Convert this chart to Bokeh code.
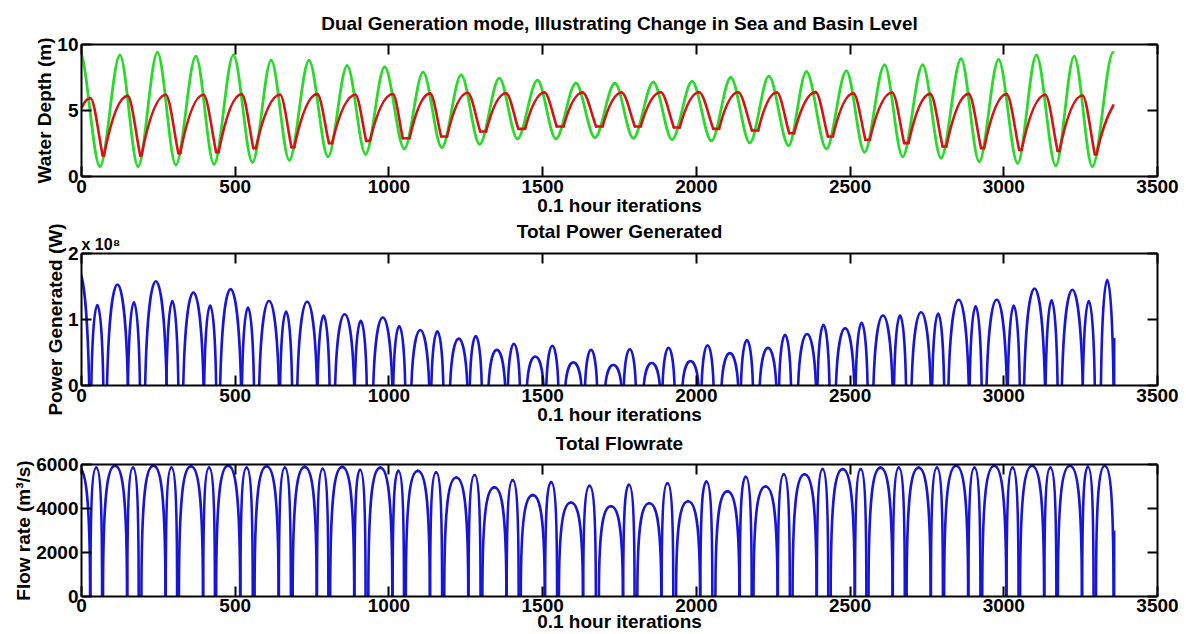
import numpy as np
from bokeh.plotting import figure
from bokeh.layouts import column
from bokeh.models import LinearAxis, FixedTicker, Range1d, Title
from bokeh.embed import file_html
from bokeh.resources import INLINE

# ------------------------------------------------------------------
# Data (x in 0.1 hour iterations)
# ------------------------------------------------------------------
x_ticks = [0, 500, 1000, 1500, 2000, 2500, 3000, 3500]
depth_ticks = [0, 5, 10]
power_ticks = [0, 1, 2]          # x 10^8 W
flow_ticks = [0, 2000, 4000, 6000]

# Sea level (green): successive turning points
sea_x = [-6, 60, 125, 184, 247, 307, 372, 431, 494, 556, 617, 676, 740, 802, 864, 924,
         986, 1050, 1111, 1172, 1235, 1295, 1359, 1418, 1483, 1543, 1608, 1670, 1735,
         1795, 1860, 1921, 1986, 2049, 2112, 2174, 2236, 2300, 2358, 2423, 2488, 2547,
         2612, 2671, 2736, 2796, 2861, 2920, 2983, 3045, 3106, 3169, 3229, 3288, 3356]
sea_y = [9.5, 0.76, 9.2, 0.76, 9.4, 0.89, 9.1, 0.93, 9.2, 1.08, 8.8, 1.24, 8.8, 1.5, 8.4, 1.7,
         8.3, 2.1, 7.9, 2.2, 7.7, 2.45, 7.45, 2.85, 7.3, 2.85, 7.07, 2.95, 7.07,
         2.9, 7.15, 2.8, 7.2, 2.7, 7.5, 2.55, 7.6, 2.35, 7.95, 2.1, 8.0, 1.85,
         8.45, 1.5, 8.45, 1.4, 8.9, 1.14, 8.85, 1.0, 9.2, 0.83, 9.1, 0.76, 9.4]

# Basin level (red)
basin_start = (0, 5.2)
basin_end = (3356, 5.38)
basin_peak_x = [29, 150, 274, 397, 521, 646, 767, 891, 1013, 1134, 1256, 1381, 1506, 1630,
                1757, 1884, 2009, 2136, 2262, 2388, 2511, 2637, 2761, 2886, 3009, 3135, 3256]
basin_peak_y = [5.93, 6.11, 6.19, 6.19, 6.24, 6.19, 6.24, 6.19, 6.25, 6.30, 6.34, 6.31, 6.36,
                6.36, 6.36, 6.38, 6.38, 6.38, 6.36, 6.39, 6.31, 6.36, 6.26, 6.26, 6.24, 6.19, 6.14]
basin_low_x0 = [69, 191, 315, 438, 559, 683, 805, 926, 1045, 1170, 1297, 1421, 1546, 1674,
                1800, 1927, 2055, 2181, 2302, 2428, 2550, 2676, 2801, 2926, 3050, 3175, 3296]
basin_low_x1 = [73, 195, 321, 446, 567, 692, 815, 938, 1067, 1189, 1316, 1443, 1568, 1695,
                1819, 1946, 2074, 2201, 2318, 2444, 2564, 2690, 2813, 2936, 3058, 3181, 3302]
basin_low_y = [1.59, 1.59, 1.77, 1.84, 2.15, 2.22, 2.53, 2.70, 2.90, 3.03, 3.41, 3.61, 3.79,
               3.79, 3.79, 3.71, 3.61, 3.48, 3.28, 3.03, 2.78, 2.53, 2.27, 2.15, 2.02, 1.94, 1.69]

# Power (x 10^8 W): flood-generation humps and ebb-generation humps
flood_pow_x0 = [-45, 83, 207, 331, 451, 578, 702, 825, 949, 1073, 1199, 1324, 1449, 1574,
                1704, 1829, 1955, 2082, 2206, 2331, 2454, 2576, 2700, 2820, 2944, 3066, 3189, 3316]
flood_pow_x1 = [25, 151, 277, 397, 519, 642, 766, 887, 1011, 1131, 1255, 1378, 1503, 1626,
                1756, 1881, 2007, 2136, 2260, 2389, 2514, 2638, 2762, 2886, 3010, 3134, 3257, 3357]
flood_pow_peak = [1.75, 1.53, 1.58, 1.41, 1.46, 1.28, 1.27, 1.08, 1.03, 0.84, 0.71, 0.54, 0.44, 0.35,
                  0.31, 0.34, 0.37, 0.49, 0.57, 0.78, 0.87, 1.06, 1.11, 1.30, 1.30, 1.47, 1.45, 1.60]
ebb_pow_x0 = [32, 151, 276, 399, 522, 646, 768, 889, 1014, 1138, 1263, 1387, 1512, 1638,
              1764, 1890, 2017, 2145, 2269, 2394, 2518, 2643, 2767, 2889, 3013, 3136, 3257]
ebb_pow_x1 = [71, 190, 315, 438, 561, 685, 807, 928, 1053, 1177, 1302, 1426, 1551, 1677,
              1803, 1929, 2056, 2184, 2308, 2433, 2557, 2682, 2806, 2928, 3052, 3175, 3296]
ebb_pow_peak = [1.22, 1.26, 1.28, 1.21, 1.18, 1.12, 1.06, 0.98, 0.90, 0.82, 0.75, 0.63, 0.60, 0.54,
                0.55, 0.57, 0.61, 0.69, 0.77, 0.92, 0.95, 1.06, 1.09, 1.20, 1.21, 1.29, 1.28]
pow_last_x, pow_last_y = 3359, 0.72

# Flow rate (m3/s): flood arches and ebb arches
flood_q_x0 = [-50, 70, 195, 317, 438, 563, 687, 809, 933, 1055, 1180, 1304, 1429, 1553,
              1683, 1808, 1934, 2062, 2186, 2313, 2437, 2560, 2684, 2806, 2930, 3053, 3176, 3300]
flood_q_x1 = [28, 148, 273, 395, 516, 641, 765, 887, 1011, 1133, 1258, 1382, 1507, 1631,
              1761, 1886, 2012, 2140, 2264, 2391, 2515, 2638, 2762, 2884, 3008, 3131, 3254, 3357]
flood_q_peak = [5900, 5950, 5950, 5920, 5950, 5920, 5890, 5890, 5860, 5710, 5410, 4960, 4610, 4270,
                4100, 4240, 4330, 4780, 5000, 5560, 5790, 5860, 5860, 5940, 5940, 5940, 5940, 5940]
ebb_q_x0 = [29, 149, 274, 396, 517, 642, 766, 888, 1012, 1134, 1259, 1383, 1508, 1632,
            1762, 1887, 2013, 2141, 2265, 2392, 2516, 2639, 2763, 2885, 3009, 3132, 3255]
ebb_q_x1 = [67, 186, 311, 434, 557, 681, 803, 924, 1049, 1173, 1298, 1422, 1547, 1673,
            1799, 1925, 2052, 2180, 2304, 2429, 2553, 2678, 2802, 2924, 3048, 3171, 3292]
ebb_q_peak = [5860, 5860, 5860, 5860, 5860, 5860, 5800, 5760, 5710, 5640, 5520, 5290, 5200, 5030,
              5080, 5150, 5220, 5440, 5560, 5790, 5790, 5860, 5860, 5860, 5860, 5860, 5900]
q_last_x, q_last_y = 3359, 3000

# ------------------------------------------------------------------
FONT = "Liberation Sans"
FS = "19px"
GREEN = "#2ada2a"
RED = "#d81212"
BLUE = "#1616d4"


def style_axis(ax, ticks, labels=True):
    ax.ticker = FixedTicker(ticks=ticks)
    ax.major_tick_in = 10
    ax.major_tick_out = 0
    ax.minor_tick_line_color = None
    ax.axis_line_width = 2
    ax.axis_line_color = "black"
    ax.major_tick_line_width = 2
    ax.major_tick_line_color = "black"
    ax.major_label_text_font = FONT
    ax.major_label_text_font_style = "bold"
    ax.major_label_text_color = "black"
    ax.axis_label_text_font = FONT
    ax.axis_label_text_font_style = "bold"
    ax.axis_label_text_font_size = FS
    ax.axis_label_text_color = "black"
    if labels:
        ax.major_label_text_font_size = FS
    else:
        ax.major_label_text_font_size = "1px"
        ax.major_label_overrides = {t: "" for t in ticks}
        ax.major_label_standoff = 0


def make_panel(ylabel, ymax, yticks, top, bottom, lab_so, axlab_so, top_label=None, top_label_so=0):
    p = figure(frame_width=1076, frame_height=132,
               x_range=Range1d(0, 3500), y_range=Range1d(0, ymax),
               min_border_left=81, min_border_right=29,
               min_border_top=top, min_border_bottom=bottom,
               output_backend="svg", toolbar_location=None, title=None,
               x_axis_label="0.1 hour iterations", y_axis_label=ylabel)
    p.grid.visible = False
    p.outline_line_color = None
    p.background_fill_color = "white"
    p.border_fill_color = "white"
    style_axis(p.xaxis[0], x_ticks)
    style_axis(p.yaxis[0], yticks)
    p.xaxis[0].major_label_standoff = lab_so
    p.xaxis[0].axis_label_standoff = axlab_so
    p.yaxis[0].major_label_standoff = 3
    p.yaxis[0].axis_label_standoff = -1
    top_ax = LinearAxis()
    style_axis(top_ax, x_ticks, False)
    if top_label is not None:
        top_ax.axis_label = top_label
        top_ax.axis_label_standoff = top_label_so
    p.add_layout(top_ax, "above")
    right_ax = LinearAxis()
    style_axis(right_ax, yticks, False)
    p.add_layout(right_ax, "right")
    return p


def add_title(p, text, standoff, size=FS, align="center"):
    t = Title(text=text, text_font=FONT, text_font_size=size, text_font_style="bold",
              text_color="black", align=align, standoff=standoff)
    p.add_layout(t, "above")


# ---------------- panel 1: sea and basin level ----------------
p1 = make_panel("Water Depth (m)", 10, depth_ticks, 43, 44, 3, -1)
add_title(p1, "Dual Generation mode, Illustrating Change in Sea and Basin Level", 21)

sx = np.array(sea_x, float)
sy = np.array(sea_y, float)
dx = np.diff(sx)
p1.bezier(x0=sx[:-1], y0=sy[:-1], x1=sx[1:], y1=sy[1:],
          cx0=sx[:-1] + dx / 3, cy0=sy[:-1], cx1=sx[1:] - dx / 3, cy1=sy[1:],
          line_color=GREEN, line_width=2.8, line_cap="round")

# basin segments: rise (concave), fall, hold at low water
ctrl = {"rise": (2 / 3, 1.0), "fall": (0.0, 2 / 3), "hold": (1 / 3, 2 / 3), "open": (0.55, 0.8)}
segs = [(basin_start[0], basin_start[1], basin_peak_x[0], basin_peak_y[0], "rise")]
n = len(basin_peak_x)
for k in range(n):
    segs.append((basin_peak_x[k], basin_peak_y[k], basin_low_x0[k], basin_low_y[k], "fall"))
    segs.append((basin_low_x0[k], basin_low_y[k], basin_low_x1[k], basin_low_y[k], "hold"))
    if k < n - 1:
        segs.append((basin_low_x1[k], basin_low_y[k], basin_peak_x[k + 1], basin_peak_y[k + 1], "rise"))
    else:
        segs.append((basin_low_x1[k], basin_low_y[k], basin_end[0], basin_end[1], "open"))
bx0 = np.array([s[0] for s in segs], float)
by0 = np.array([s[1] for s in segs], float)
bx1 = np.array([s[2] for s in segs], float)
by1 = np.array([s[3] for s in segs], float)
f0 = np.array([ctrl[s[4]][0] for s in segs])
f1 = np.array([ctrl[s[4]][1] for s in segs])
bdx = bx1 - bx0
bdy = by1 - by0
p1.bezier(x0=bx0, y0=by0, x1=bx1, y1=by1,
          cx0=bx0 + bdx / 3, cy0=by0 + f0 * bdy, cx1=bx1 - bdx / 3, cy1=by0 + f1 * bdy,
          line_color=RED, line_width=2.6, line_cap="round")


# ---------------- panel 2: power ----------------
def humps(x0, x1, pk, k=0.15):
    x0 = np.array(x0, float)
    x1 = np.array(x1, float)
    h = np.array(pk, float) * 4 / 3
    w = x1 - x0
    return dict(x0=x0, y0=np.zeros_like(x0), x1=x1, y1=np.zeros_like(x1),
                cx0=x0 + k * w, cy0=h, cx1=x1 - k * w, cy1=h)


p2 = make_panel("Power Generated (W)", 2, power_ticks, 33, 44, 3, -1)
add_title(p2, "x 10⁸", 2, size="16px", align="left")
add_title(p2, "Total Power Generated", -18)
for x0, x1, pk in [(flood_pow_x0, flood_pow_x1, flood_pow_peak),
                   (ebb_pow_x0, ebb_pow_x1, ebb_pow_peak)]:
    p2.bezier(**humps(x0, x1, pk), line_color=BLUE, line_width=2.6, line_cap="round")
p2.segment(x0=[pow_last_x], y0=[0], x1=[pow_last_x], y1=[pow_last_y],
           line_color=BLUE, line_width=2.6)


# ---------------- panel 3: flow ----------------
def arches(x0, x1, pk):
    x0 = np.array(x0, float)
    x1 = np.array(x1, float)
    p = np.array(pk, float)
    w = x1 - x0
    xm = (x0 + x1) / 2
    z = np.zeros_like(x0)
    left = dict(x0=x0, y0=z, x1=xm, y1=p, cx0=x0, cy0=0.8 * p, cx1=x0 + 0.2 * w, cy1=p)
    right = dict(x0=xm, y0=p, x1=x1, y1=z, cx0=x1 - 0.2 * w, cy0=p, cx1=x1, cy1=0.8 * p)
    return left, right


p3 = make_panel("Flow rate (m³/s)", 6000, flow_ticks, 34, 40, 2, -4,
                top_label="Total Flowrate", top_label_so=11)
for x0, x1, pk in [(flood_q_x0, flood_q_x1, flood_q_peak),
                   (ebb_q_x0, ebb_q_x1, ebb_q_peak)]:
    for half in arches(x0, x1, pk):
        p3.bezier(**half, line_color=BLUE, line_width=2.6, line_cap="round")
p3.segment(x0=[q_last_x], y0=[0], x1=[q_last_x], y1=[q_last_y],
           line_color=BLUE, line_width=2.6)

layout = column(p1, p2, p3)
open("out.html", "w").write(file_html(layout, INLINE))
